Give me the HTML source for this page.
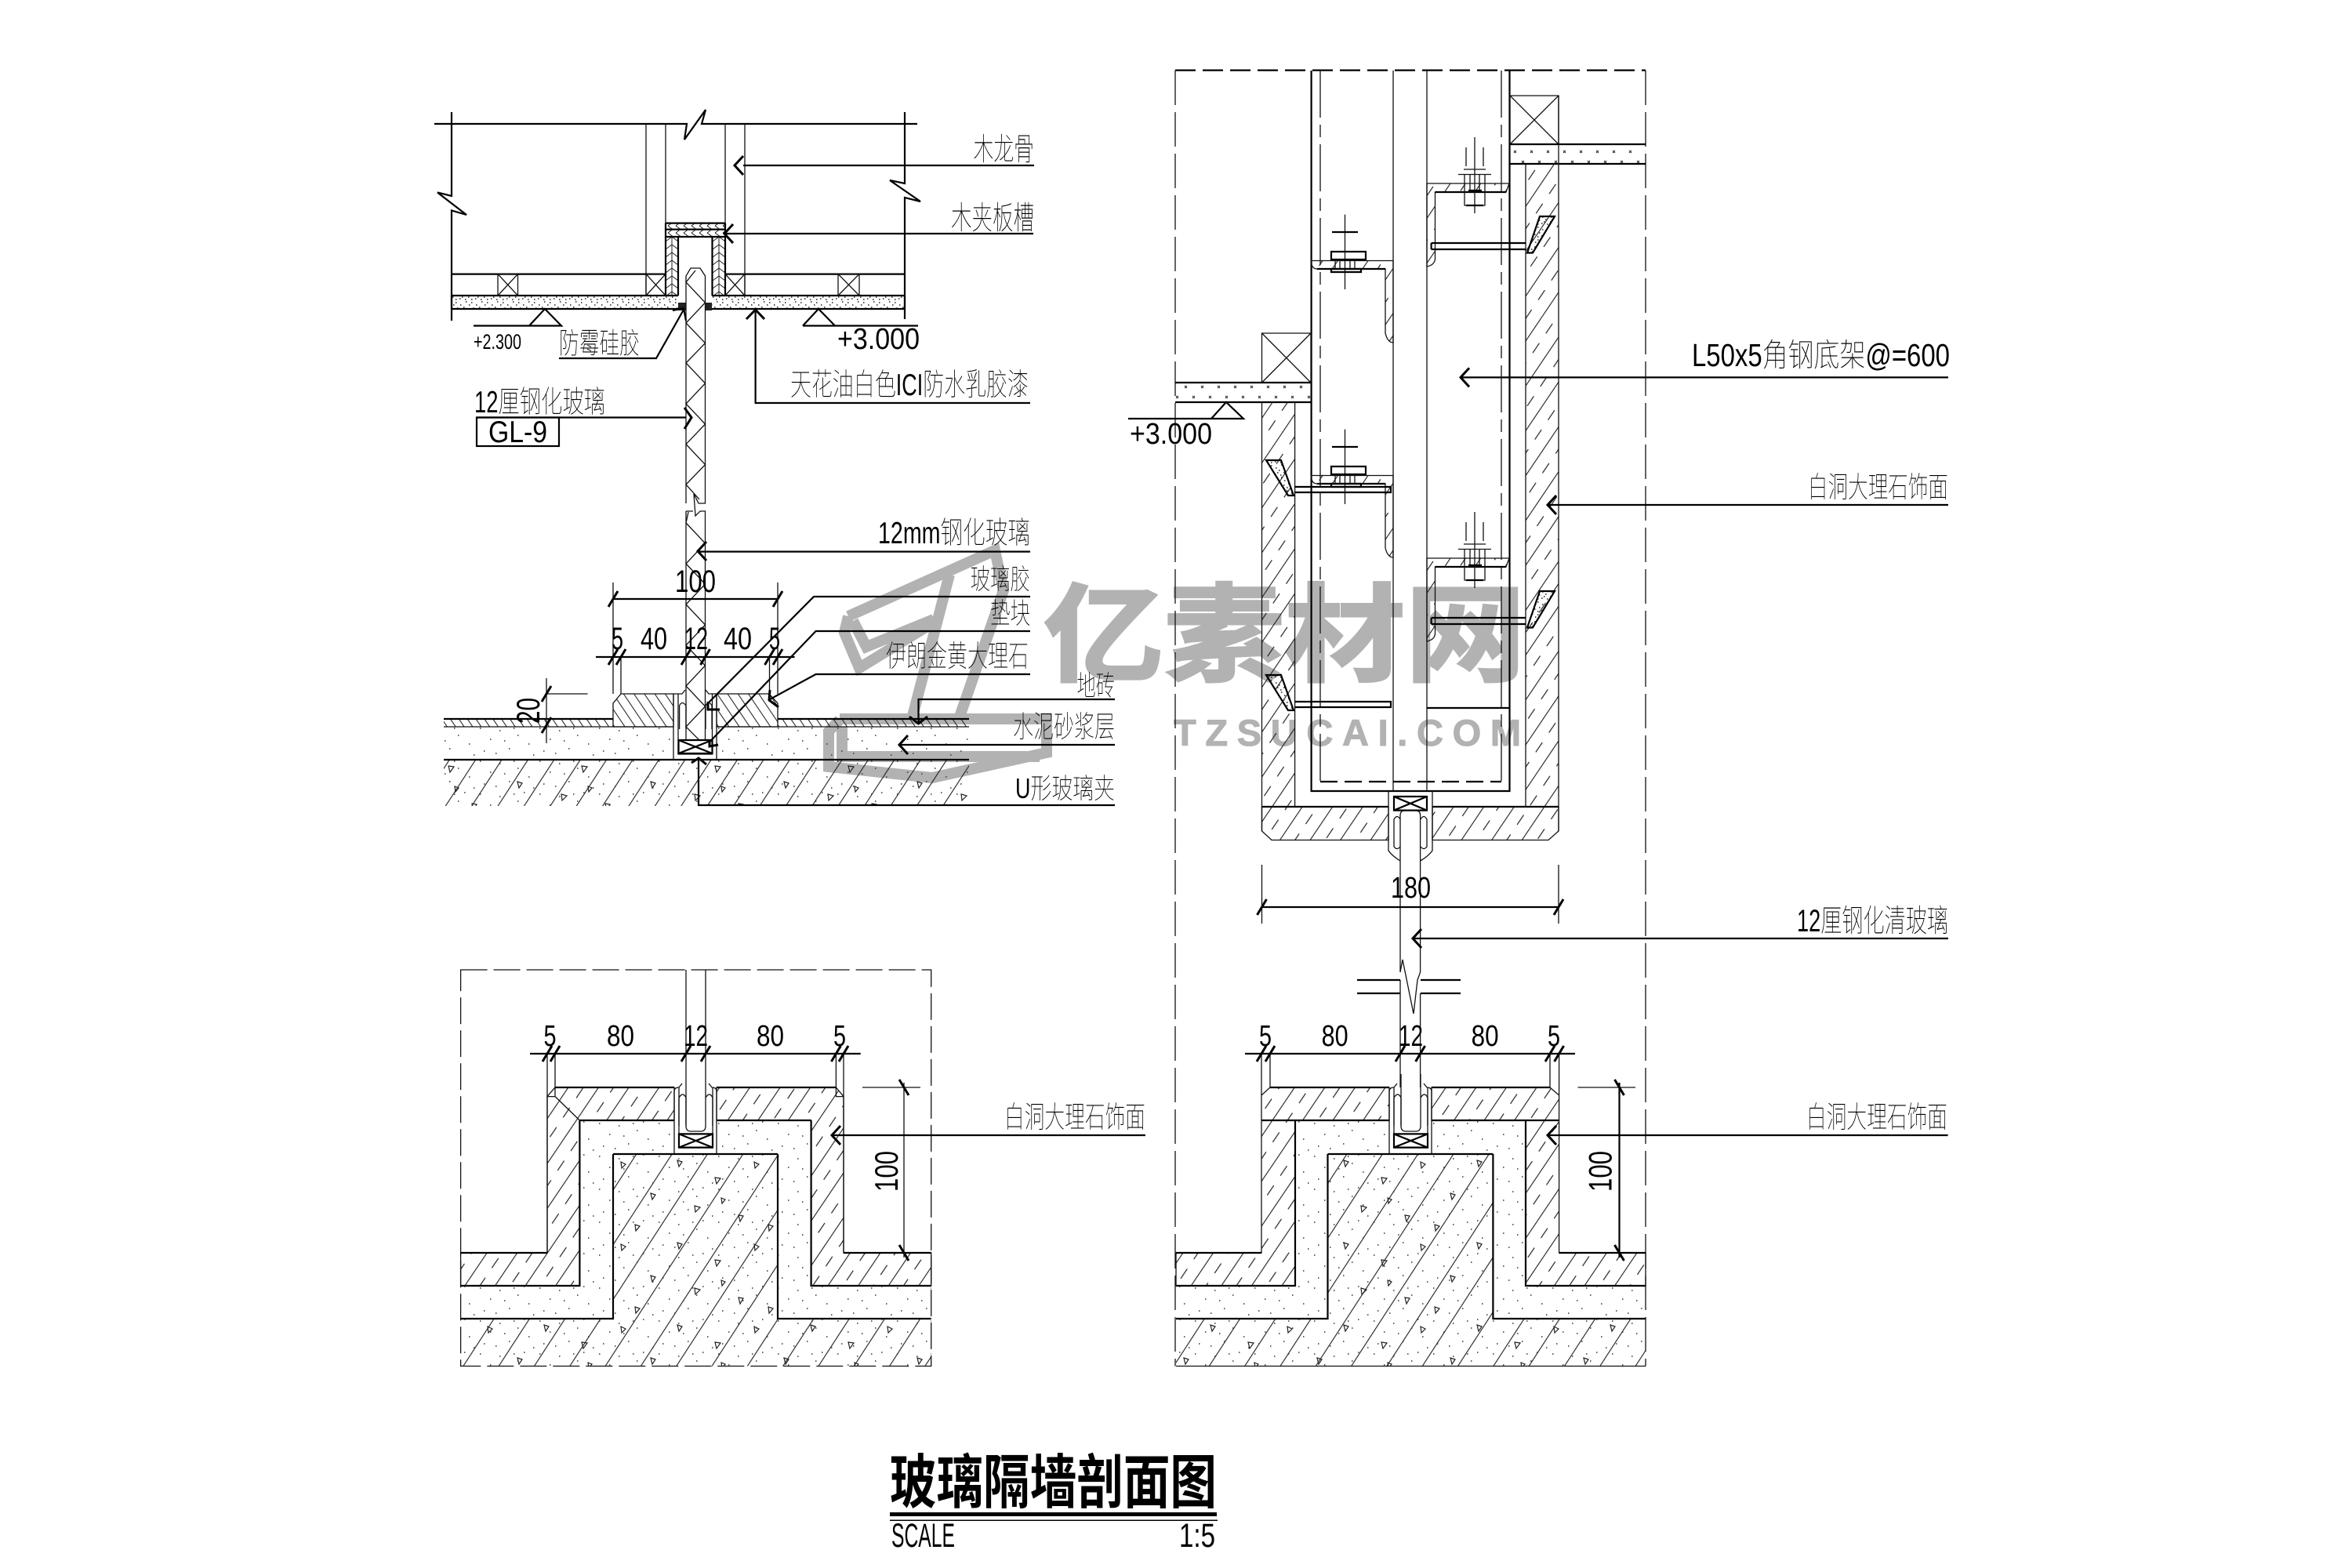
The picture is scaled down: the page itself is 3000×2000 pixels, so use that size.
<!DOCTYPE html>
<html><head><meta charset="utf-8"><title>玻璃隔墙剖面图</title>
<style>
html,body{margin:0;padding:0;background:#fff}
svg{display:block}
text{font-family:"Liberation Sans","Noto Sans CJK SC",sans-serif;fill:#000;font-weight:100}
.t{stroke:#111;stroke-width:1.3}
.m{stroke:#000;stroke-width:2.2}
.k{stroke:#000;stroke-width:3.2}
.wm{fill:none;stroke:#b2b2b2;stroke-width:14;stroke-linejoin:miter}
</style></head><body>
<svg xmlns="http://www.w3.org/2000/svg" width="3000" height="2000" viewBox="0 0 3000 2000" fill="none">
<defs>
<pattern id="hm" patternUnits="userSpaceOnUse" width="30" height="32" patternTransform="rotate(-56)">
<path d="M0 .5H30" stroke="#222" stroke-width="1.2"/><path d="M0 16.5H15" stroke="#222" stroke-width="1.2"/></pattern>
<pattern id="hb" patternUnits="userSpaceOnUse" width="10" height="9" patternTransform="rotate(56)">
<path d="M0 .5H10" stroke="#222" stroke-width="1.1"/></pattern>
<pattern id="hb2" patternUnits="userSpaceOnUse" width="10" height="11" patternTransform="rotate(56)">
<path d="M0 .5H10" stroke="#222" stroke-width="1.1"/></pattern>
<pattern id="hs" patternUnits="userSpaceOnUse" width="20" height="9" patternTransform="rotate(-56)">
<path d="M0 .5H20" stroke="#222" stroke-width="1.1"/></pattern>
<pattern id="cl" patternUnits="userSpaceOnUse" width="40" height="38" patternTransform="rotate(-57)">
<path d="M0 .5H40" stroke="#222" stroke-width="1.2"/></pattern>
<pattern id="cl2" patternUnits="userSpaceOnUse" width="40" height="28" patternTransform="rotate(-57)">
<path d="M0 .5H40" stroke="#222" stroke-width="1.2"/></pattern>
<pattern id="dt" patternUnits="userSpaceOnUse" width="76" height="42">
<path d="M4 5h1.5M17 19h1.5M29 8h1.5M41 31h1.5M52 14h1.5M66 25h1.5M9 34h1.5M24 37h1.5M60 3h1.5M72 39h1.5M35 21h1.5M47 5h1.5" stroke="#333" stroke-width="1.5" fill="none"/></pattern>
<pattern id="db" patternUnits="userSpaceOnUse" width="20" height="16">
<path d="M1 2h1.5M7 5h1.5M14 1h1.5M3 9h1.5M11 8h1.5M17 11h1.5M6 13h1.5M13 14h1.5M18 5h1.5M1 14h1.5M9 11h1.5" stroke="#222" stroke-width="1.5" fill="none"/></pattern>
<pattern id="tr" patternUnits="userSpaceOnUse" width="170" height="105">
<path d="M14 10l6 2-4 6zM62 32l7 1-5 7zM112 12l6 3-5 5zM150 52l6 2-4 6zM36 68l7 2-6 6zM92 80l6 1-4 7zM130 92l6 2-5 6zM70 58l5 2-4 5z" stroke="#222" stroke-width="1.2" fill="none"/></pattern>
<pattern id="xd" patternUnits="userSpaceOnUse" width="21" height="25">
<path d="M9 5l3 3M12 5l-3 3M-1 17l3 3M2 17l-3 3M20 17l3 3M23 17l-3 3" stroke="#222" stroke-width="1" fill="none"/></pattern>
<pattern id="hL" patternUnits="userSpaceOnUse" x="849" y="0" width="16" height="10">
<path d="M0 8L8 2L16 8M8 0V10" stroke="#222" stroke-width="1" fill="none"/></pattern>
<pattern id="hR" patternUnits="userSpaceOnUse" x="909" y="0" width="16" height="10">
<path d="M0 8L8 2L16 8M8 0V10" stroke="#222" stroke-width="1" fill="none"/></pattern>
<pattern id="hT" patternUnits="userSpaceOnUse" width="10" height="9">
<path d="M2 0L8 4.5L2 9" stroke="#222" stroke-width="1" fill="none"/></pattern>

<polyline id="al" points="11,-12 0,0 11,12" fill="none" stroke="#000" stroke-width="3"/>
<line id="tk" x1="-6" y1="10" x2="6" y2="-10" stroke="#000" stroke-width="3"/>

<g id="clip">
<path class="t" d="M860 1472V1392Q860 1387 866 1387L870 1382M914 1472V1392Q914 1387 908 1387L904 1382"/>
<path class="t" d="M866 1387V1464H909V1387"/>
<path class="m" d="M866 1446.4H909V1463.6H866ZM866 1446.4L909 1463.6M909 1446.4L866 1463.6"/>
<path class="t" d="M875 1370V1436Q875 1443 881 1443H894Q900 1443 900 1436V1370"/>
<path class="t" d="M866 1400Q871 1392 875 1400V1436M866 1436V1400M900 1400Q905 1392 909 1400V1436"/>
</g>

<g id="bolt1">
<path class="t" d="M1881 175V272M1870 188V212M1892 188V212M1867 216H1895M1860 222.5H1902M1868 222V262H1894V222M1875 222V245M1887 222V245"/>
<path class="m" d="M1873 243H1890M1870 262H1892"/>
</g>
<g id="bolt2">
<path class="t" d="M1715.5 273.6V369M1700 296H1731M1700 296L1731 296"/>
<path class="m" d="M1699 296H1732"/>
<path class="m" d="M1698 321H1742V331H1698Z"/>
<path class="t" d="M1703 331V343M1728 331V343M1709 331V343M1722 331V343"/>
<path class="m" d="M1698 343H1736V347H1698Z"/>
</g>
<g id="brR">
<path fill="url(#hm)" class="t" d="M1820 234H1925L1921 245H1830.5V330Q1830 338 1820 340Z"/>
<path class="m" d="M1830.5 245H1921M1825.6 310H1946M1825.6 318H1946M1825.6 310V318"/>
<path class="m" d="M1964 276H1983L1955 322.5H1948Z" fill="url(#db)"/>
</g>
<g id="brL">
<path fill="url(#hm)" class="t" d="M1672.6 332.5H1777V437Q1770 437 1767 425V343H1680Q1674 343 1672.6 336Z"/>
<path class="m" d="M1767 343H1680"/>
</g>
<g id="ancL">
<path class="m" d="M1615 587H1634L1650 632H1643Z" fill="url(#db)"/>
<path class="m" d="M1651.6 621H1774V628H1651.6"/>
</g>
</defs>

<!-- watermark (under the line work) -->
<text x="1331" y="858" font-size="136" textLength="615" lengthAdjust="spacingAndGlyphs" style="fill:#b2b2b2;stroke:#b2b2b2;stroke-width:3;font-weight:700">亿素材网</text>
<text x="1497" y="951" font-size="47" textLength="449" style="fill:#b2b2b2;stroke:#b2b2b2;stroke-width:1;font-weight:700;letter-spacing:6px">TZSUCAI.COM</text>
<g class="wm">
<path d="M1082 786L1269 702L1280 753L1223 917"/>
<path d="M1211 733L1163 917"/>
<path d="M1082 786L1077 807L1096 852L1194 792M1088 792L1105 825L1191 790"/>
<path d="M1071 918L1057 933V978L1189 992L1335 960V917H1071"/>
<path d="M1074 927V965H1326"/>
</g>

<!-- ===== TOP LEFT DETAIL ===== -->
<path class="m" d="M554 158H876L873 178L900 140L895 158H1170"/>
<path class="m" d="M576 143V250L558 245.5L595 274L576 268.5V409"/>
<path class="m" d="M1154 143V234L1135 230L1174 257L1154 252V407"/>
<path class="t" d="M824 158V377M849 158V285M925 158V285M950 158V377"/>
<path class="m" d="M576 349.6H849M925 349.6H1154M576 377H865M908 377H1154M576 394H865M908 394H1154M576 377V394M1154 377V394"/>
<rect x="576" y="378" width="289" height="15" fill="url(#db)"/>
<rect x="908" y="378" width="246" height="15" fill="url(#db)"/>
<path class="t" d="M635 349.6H660.5V377H635ZM635 349.6L660.5 377M660.5 349.6L635 377M824 349.6H849V377H824ZM824 349.6L849 377M849 349.6L824 377M925 349.6H950V377H925ZM925 349.6L950 377M950 349.6L925 377M1069 349.6H1096V377H1069ZM1069 349.6L1096 377M1096 349.6L1069 377"/>
<!-- wood channel -->
<rect x="849" y="284.6" width="76" height="17.4" fill="url(#hT)"/>
<rect x="849" y="302" width="16" height="75" fill="url(#hL)"/>
<rect x="909" y="302" width="16" height="75" fill="url(#hR)"/>
<path class="m" d="M849 284.6H925M849 292.6H925M849 302H925M849 284.6V377M865 302V377M908.5 302V377M925 284.6V377"/>
<!-- sealant -->
<rect x="865" y="386" width="10" height="10" fill="#222"/><rect x="900" y="386" width="8" height="10" fill="#222"/>
<!-- glass -->
<path class="t" d="M875 642V352L881 342H893L899.5 352V642L891 642L885 630L887 658L893 652H899.5V944M875 652H884M875 652V944"/>
<path class="t" d="M887 345L875 360L899.5 386L875 412L899.5 437.6L875 463L899.5 489L875 515L899.5 541L875 566.6L899.5 592.6L875 618L892 637M878 653L875 667L899.5 693L875 719L899.5 745L875 771L899.5 797L875 823L899.5 849L875 875L899.5 901L875 927L892 944"/>
<!-- levels -->
<path class="m" d="M604 415.5H716L695 394L675 415.5M1024 415.5H1171M1024 415.5L1044 394L1065 415.5"/>
<text x="604" y="445" font-size="27" textLength="61" lengthAdjust="spacingAndGlyphs">+2.300</text>
<text x="1068" y="445" font-size="38" textLength="105" lengthAdjust="spacingAndGlyphs">+3.000</text>
<text x="713" y="450.5" font-size="37" textLength="103" lengthAdjust="spacingAndGlyphs">防霉硅胶</text>
<path class="m" d="M713 457H837L872 395"/>
<path class="m" d="M858 396L872 393L875 409"/>
<!-- leaders -->
<path class="m" d="M948 211H1319M923.5 298H1318M963.6 396V514H1314M608 532.5H875M890 703.6H1314"/>
<use href="#al" x="937" y="211"/><use href="#al" x="924" y="298"/>
<path d="M952 407L963.6 395L975 407" fill="none" stroke="#000" stroke-width="3"/>
<path d="M873 520L882 532.5L873 547" fill="none" stroke="#000" stroke-width="3"/>
<use href="#al" x="890" y="703"/>
<text x="1241.5" y="204" font-size="40" textLength="77.5" lengthAdjust="spacingAndGlyphs">木龙骨</text>
<text x="1213" y="292" font-size="41" textLength="106" lengthAdjust="spacingAndGlyphs">木夹板槽</text>
<text x="1008" y="504" font-size="39" textLength="304" lengthAdjust="spacingAndGlyphs">天花油白色ICI防水乳胶漆</text>
<text x="605" y="526" font-size="39" textLength="167" lengthAdjust="spacingAndGlyphs">12厘钢化玻璃</text>
<rect class="m" x="608" y="532.5" width="105" height="36.5"/>
<text x="623" y="564" font-size="39" textLength="75" lengthAdjust="spacingAndGlyphs">GL-9</text>
<text x="1120" y="693" font-size="39" textLength="194" lengthAdjust="spacingAndGlyphs">12mm钢化玻璃</text>

<!-- floor section -->
<text x="861" y="755" font-size="40" textLength="52" lengthAdjust="spacingAndGlyphs">100</text>
<path class="m" d="M782 764H992"/><use href="#tk" x="782" y="764"/><use href="#tk" x="992" y="764"/>
<path class="t" d="M782 743V885M992 743V885M792 838V885M981.5 838V885"/>
<path class="m" d="M760 838H1013.6"/>
<use href="#tk" x="782" y="838"/><use href="#tk" x="792" y="838"/><use href="#tk" x="875" y="838"/><use href="#tk" x="899.5" y="838"/><use href="#tk" x="981.5" y="838"/><use href="#tk" x="992" y="838"/>
<text x="780" y="828" font-size="40" textLength="15" lengthAdjust="spacingAndGlyphs">5</text>
<text x="817" y="828" font-size="40" textLength="34" lengthAdjust="spacingAndGlyphs">40</text>
<text x="873" y="828" font-size="40" textLength="30" lengthAdjust="spacingAndGlyphs">12</text>
<text x="923" y="828" font-size="40" textLength="36" lengthAdjust="spacingAndGlyphs">40</text>
<text x="981" y="828" font-size="40" textLength="14" lengthAdjust="spacingAndGlyphs">5</text>
<path fill="url(#hb2)" class="t" d="M792 885H859V927H782V897Z"/>
<path fill="url(#hb2)" class="t" d="M914 885H981L992 897V927H914Z"/>
<rect x="566" y="917" width="216" height="10" fill="url(#hb)"/><rect x="992" y="917" width="244" height="10" fill="url(#hb)"/>
<path class="m" d="M566 917H782M992 917H1236"/>
<path class="t" d="M566 927H859M914 927H1236"/>
<rect x="566" y="928" width="293" height="41" fill="url(#dt)"/><rect x="914" y="928" width="322" height="41" fill="url(#dt)"/>
<rect x="566" y="969" width="670" height="59" fill="url(#cl2)"/><rect x="566" y="969" width="670" height="59" fill="url(#tr)"/><rect x="566" y="969" width="670" height="59" fill="url(#dt)"/>
<path class="m" d="M566 969H1236"/>
<path class="t" d="M859 885V969M914 885V969M865 885V962H908.5V885M859 885L870 885L874 880M914 885L904 885L900 880"/>
<path class="t" d="M866.6 930V900Q870 893 875 900V930M900 930V900Q904 893 908 900V930"/>
<path class="m" d="M865.5 944H908.5V961H865.5ZM865.5 944L908.5 961M908.5 944L865.5 961"/>
<!-- 20 dim -->
<path class="t" d="M697 865V948M697 885H749.5"/>
<use href="#tk" x="697" y="885"/><use href="#tk" x="697" y="925"/>
<text transform="translate(688,923) rotate(-90)" font-size="42" textLength="33" lengthAdjust="spacingAndGlyphs">20</text>
<!-- floor leaders -->
<path class="m" d="M1314 761H1038L903 897M1314 805H1040.6L904.5 947M1314 860H1040.6L982 892M1422 892H1171.5V923M1422 950H1148.5M1422 1027H891V967"/>
<path d="M903 895V905L918 905M905 943V952L916 950M982 880L981 893L993 902M1160 914L1171.5 923L1183 914M882 973L891 967L901 975" fill="none" stroke="#000" stroke-width="3"/>
<use href="#al" x="1147" y="950"/>
<text x="1237.5" y="751" font-size="36" textLength="76.5" lengthAdjust="spacingAndGlyphs">玻璃胶</text>
<text x="1263" y="795" font-size="37" textLength="51" lengthAdjust="spacingAndGlyphs">垫块</text>
<text x="1130" y="850" font-size="38" textLength="182" lengthAdjust="spacingAndGlyphs">伊朗金黄大理石</text>
<text x="1373.5" y="887" font-size="36" textLength="48.5" lengthAdjust="spacingAndGlyphs">地砖</text>
<text x="1292" y="940" font-size="38" textLength="130" lengthAdjust="spacingAndGlyphs">水泥砂浆层</text>
<text x="1295" y="1018" font-size="36" textLength="127" lengthAdjust="spacingAndGlyphs">U形玻璃夹</text>

<!-- ===== LOWER LEFT DETAIL ===== -->
<path class="t" stroke-dasharray="34 8" d="M587.6 1237H1187.7V1742.5H587.6Z"/>
<path fill="url(#hm)" class="t" d="M708 1387H860V1429H739.4V1640H587.6V1598H698V1398.6Z"/>
<path fill="url(#hm)" class="t" d="M914 1387H1066.4L1076 1398.6V1598H1187.7V1640H1034.6V1429H914Z"/>
<path fill="url(#dt)" d="M739.4 1429H860V1472H782V1682H587.6V1640H739.4Z"/>
<path fill="url(#dt)" d="M914 1429H1034.6V1640H1187.7V1682H992V1472H914Z"/>
<path fill="url(#cl)" d="M782 1472H992V1682H1187.7V1742.5H587.6V1682H782Z"/>
<path fill="url(#tr)" d="M782 1472H992V1682H1187.7V1742.5H587.6V1682H782Z"/>
<path fill="url(#dt)" d="M782 1472H992V1682H1187.7V1742.5H587.6V1682H782Z"/>
<path class="m" d="M739.4 1429H860M914 1429H1034.6M739.4 1429V1640H587.6M1034.6 1429V1640H1187.7M782 1472H992M782 1472V1682H587.6M992 1472V1682H1187.7M587.6 1598H698M1076 1598H1187.7M708 1387H860M914 1387H1066.4"/>
<path class="t" d="M698 1344V1598M708 1344V1398.6M698 1398.6H708M708 1398.6L739.4 1429M1066.4 1344V1398.6H1076M1076 1344V1598M875 1237V1370M900 1237V1370"/>
<use href="#clip"/>
<path class="m" d="M676 1344H1097.7"/>
<use href="#tk" x="698" y="1344"/><use href="#tk" x="708" y="1344"/><use href="#tk" x="875" y="1344"/><use href="#tk" x="900" y="1344"/><use href="#tk" x="1066.4" y="1344"/><use href="#tk" x="1076" y="1344"/>
<text x="693.5" y="1334" font-size="38" textLength="16" lengthAdjust="spacingAndGlyphs">5</text>
<text x="774" y="1334" font-size="38" textLength="35" lengthAdjust="spacingAndGlyphs">80</text>
<text x="872" y="1334" font-size="38" textLength="31" lengthAdjust="spacingAndGlyphs">12</text>
<text x="965" y="1334" font-size="38" textLength="35" lengthAdjust="spacingAndGlyphs">80</text>
<text x="1063" y="1334" font-size="38" textLength="16" lengthAdjust="spacingAndGlyphs">5</text>
<path class="t" d="M1153 1381V1604M1100 1387H1174"/>
<use href="#tk" x="1153" y="1387" transform="translate(2306,0) scale(-1,1)"/><use href="#tk" x="1153" y="1598" transform="translate(2306,0) scale(-1,1)"/>
<text transform="translate(1145,1520) rotate(-90)" font-size="42" textLength="52" lengthAdjust="spacingAndGlyphs">100</text>
<path class="m" d="M1061 1448H1461"/><use href="#al" x="1061" y="1448"/>
<text x="1281" y="1438" font-size="38" textLength="180" lengthAdjust="spacingAndGlyphs">白洞大理石饰面</text>

<!-- ===== RIGHT COLUMN ===== -->
<path class="t" stroke-dasharray="44 9" d="M1499 90V1742.5M2099 90V1742.5"/>
<path class="m" stroke-dasharray="26 9" d="M1499 89.6H2099"/>
<path class="m" d="M1672.6 90V1009H1925.5V90"/>
<path class="t" d="M1777 90V1009M1820 90V1009"/>
<path class="t" stroke-dasharray="60 9 16 9" d="M1684 90V997"/>
<path class="t" stroke-dasharray="60 9 16 9" d="M1915 90V997"/>
<path class="m" stroke-dasharray="22 9" d="M1684 997H1915"/>
<!-- slabs & wood -->
<path class="t" d="M1926 122H1988V184H1926ZM1926 122L1988 184M1988 122L1926 184"/>
<rect x="1926" y="184" width="173" height="25" fill="url(#xd)"/>
<path class="m" d="M1926 184H2099M1926 209H2099"/>
<path class="t" d="M1609.5 425H1672V488H1609.5ZM1609.5 425L1672 488M1672 425L1609.5 488"/>
<rect x="1499" y="488" width="173" height="25" fill="url(#xd)"/>
<path class="m" d="M1499 488H1672M1499 513H1672"/>
<!-- marble walls -->
<path fill="url(#hm)" d="M1946 209H1988V1029H1946Z"/>
<path fill="url(#hm)" d="M1609.5 513H1651.6V1029H1609.5Z"/>
<path class="t" d="M1946 209V1029M1988 122V1060M1609.5 513V1060M1651.6 513V1029"/>
<path fill="url(#hm)" class="t" d="M1609.5 1029H1771V1071.5H1622L1609.5 1060Z"/>
<path fill="url(#hm)" class="t" d="M1827 1029H1988V1060L1975 1071.5H1827Z"/>
<path class="m" d="M1609.5 1029H1771M1827 1029H1988"/>
<!-- brackets -->
<use href="#brR"/><use href="#brR" y="478"/>
<use href="#brL"/><use href="#brL" y="274"/>
<use href="#bolt1"/><use href="#bolt1" y="478"/>
<use href="#bolt2"/><use href="#bolt2" y="274"/>
<use href="#ancL"/><use href="#ancL" y="274"/>
<path class="m" d="M1820 903H1926"/>
<!-- level -->
<path class="m" d="M1439 534H1586L1564 513L1545 534"/>
<text x="1441" y="566" font-size="38" textLength="105" lengthAdjust="spacingAndGlyphs">+3.000</text>
<!-- clip -->
<path class="t" d="M1771 1009V1085Q1776 1092 1786 1098M1827 1009V1085Q1822 1092 1811.6 1098M1778 1016V1033M1820 1016V1033"/>
<path class="m" d="M1778 1016H1820V1033.6H1778ZM1778 1016L1820 1033.6M1820 1016L1778 1033.6"/>
<path class="t" d="M1786 1240V1040Q1786 1034 1792 1034H1806Q1811.6 1034 1811.6 1040V1240"/>
<path class="t" d="M1778 1080V1045Q1782 1038 1786 1045M1778 1080Q1782 1085 1786 1080M1812 1045Q1816 1038 1820 1045V1080Q1816 1085 1812 1080"/>
<!-- 180 dim -->
<text x="1774" y="1145" font-size="38" textLength="51" lengthAdjust="spacingAndGlyphs">180</text>
<path class="m" d="M1609.5 1157H1988"/><use href="#tk" x="1609.5" y="1157"/><use href="#tk" x="1988" y="1157"/>
<path class="t" d="M1609.5 1103V1178M1988 1103V1178"/>
<!-- glass break -->
<path class="t" d="M1786 1240L1789 1224L1803 1293L1808 1250L1811.6 1240M1786 1250V1387M1811.6 1267V1387"/>
<path class="m" d="M1731 1250H1786M1812 1250H1863M1731 1267H1786M1812 1267H1863"/>
<!-- leaders right -->
<path class="m" d="M1863.5 481.4H2485M1974 644H2485M1802.5 1197H2485"/>
<use href="#al" x="1863" y="481.4"/><use href="#al" x="1974" y="644"/><use href="#al" x="1802" y="1197"/>
<text x="2158" y="467" font-size="41" textLength="329" lengthAdjust="spacingAndGlyphs">L50x5角钢底架@=600</text>
<text x="2306" y="634" font-size="37" textLength="179" lengthAdjust="spacingAndGlyphs">白洞大理石饰面</text>
<text x="2292" y="1188" font-size="40" textLength="193" lengthAdjust="spacingAndGlyphs">12厘钢化清玻璃</text>

<!-- lower right detail -->
<path fill="url(#hm)" class="t" d="M1620 1387H1772V1429H1652V1640H1500V1598H1609V1397Z"/>
<path fill="url(#hm)" class="t" d="M1826 1387H1977L1988.6 1397V1598H2099V1640H1946V1429H1826Z"/>
<path fill="url(#dt)" d="M1652 1429H1772V1472H1693.5V1682H1500V1640H1652Z"/>
<path fill="url(#dt)" d="M1826 1429H1946V1640H2099V1682H1904.4V1472H1826Z"/>
<path fill="url(#cl)" d="M1693.5 1472H1904.4V1682H2099V1742.5H1500V1682H1693.5Z"/>
<path fill="url(#tr)" d="M1693.5 1472H1904.4V1682H2099V1742.5H1500V1682H1693.5Z"/>
<path fill="url(#dt)" d="M1693.5 1472H1904.4V1682H2099V1742.5H1500V1682H1693.5Z"/>
<path class="m" d="M1609 1429H1772M1826 1429H1988.6M1652 1429V1640H1500M1946 1429V1640H2099M1693.5 1472H1904.4M1693.5 1472V1682H1500M1904.4 1472V1682H2099M1500 1598H1609M1988.6 1598H2099M1620 1387H1772M1826 1387H1977"/>
<path class="t" d="M1500 1742.5H2099M1609 1344V1397M1620 1344V1387M1977 1344V1387M1988.6 1344V1397"/>
<use href="#clip" x="912"/>
<path class="m" d="M1588 1344H2009"/>
<use href="#tk" x="1609" y="1344"/><use href="#tk" x="1620" y="1344"/><use href="#tk" x="1786" y="1344"/><use href="#tk" x="1811.6" y="1344"/><use href="#tk" x="1977" y="1344"/><use href="#tk" x="1988.6" y="1344"/>
<text x="1606" y="1334" font-size="38" textLength="16" lengthAdjust="spacingAndGlyphs">5</text>
<text x="1685.6" y="1334" font-size="38" textLength="34" lengthAdjust="spacingAndGlyphs">80</text>
<text x="1784" y="1334" font-size="38" textLength="31" lengthAdjust="spacingAndGlyphs">12</text>
<text x="1876.6" y="1334" font-size="38" textLength="35" lengthAdjust="spacingAndGlyphs">80</text>
<text x="1974" y="1334" font-size="38" textLength="16" lengthAdjust="spacingAndGlyphs">5</text>
<path class="m" d="M2065.5 1381V1604"/><path class="t" d="M2012.5 1387H2086"/>
<use href="#tk" x="2065.5" y="1387" transform="translate(4131,0) scale(-1,1)"/><use href="#tk" x="2065.5" y="1598" transform="translate(4131,0) scale(-1,1)"/>
<text transform="translate(2055.6,1520) rotate(-90)" font-size="42" textLength="52" lengthAdjust="spacingAndGlyphs">100</text>
<path class="m" d="M1974 1448H2484.6"/><use href="#al" x="1974" y="1448"/>
<text x="2304" y="1438" font-size="38" textLength="180" lengthAdjust="spacingAndGlyphs">白洞大理石饰面</text>

<!-- title -->
<text x="1135" y="1917" font-size="75" textLength="417" lengthAdjust="spacingAndGlyphs" style="fill:#000;font-weight:700">玻璃隔墙剖面图</text>
<rect x="1135" y="1929" width="417" height="5" fill="#000"/>
<rect x="1135" y="1938.5" width="418" height="1.5" fill="#000"/>
<text x="1137" y="1973" font-size="43" textLength="81" lengthAdjust="spacingAndGlyphs" style="fill:#000;font-weight:400">SCALE</text>
<text x="1504" y="1973" font-size="43" textLength="46" lengthAdjust="spacingAndGlyphs" style="fill:#000;font-weight:400">1:5</text>
</svg>
</body></html>
